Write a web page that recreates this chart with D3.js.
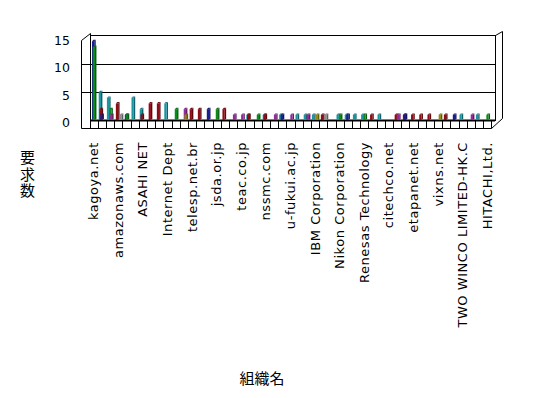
<!DOCTYPE html>
<html>
<head>
<meta charset="utf-8">
<script src="https://d3js.org/d3.v7.min.js"></script>
<style>
body {margin:0; background:#fff;}
svg text {font-family:"DejaVu Sans", sans-serif; fill:#000;}
</style>
</head>
<body>
<svg width="548" height="398"></svg>
<script>
// labels shown under every 3rd organisation
const tickLabels = ["kagoya.net", "amazonaws.com", "ASAHI NET", "Internet Dept", "telesp.net.br",
  "jsda.or.jp", "teac.co.jp", "nssmc.com", "u-fukui.ac.jp", "IBM Corporation", "Nikon Corporation",
  "Renesas Technology", "citechco.net", "etapanet.net", "vixns.net", "TWO WINCO LIMITED-HK.C", "HITACHI,Ltd."];
const labelStep = 3;
const yTicks = [0, 5, 10, 15];

// request counts per organisation (49), one array per series, back row first
const tealVals   = [0,5,4,0,0,4,2,0,0,3, 0,0,0,0,0,0,0,0,0,1, 0,1,0,1,0,1,1,1,0,0, 1,1,1,1,0,1,0,0,0,0, 0,0,0,0,0,1,0,1,0];
const redVals    = [0,2,0,3,0,0,1,3,3,0, 0,0,2,2,0,0,2,0,0,1, 0,1,0,0,0,0,0,0,1,0, 0,0,0,0,1,0,0,1,1,1, 1,1,0,1,0,0,0,0,0];
const navyVals   = [14,1,0,0,1,0,0,0,0,0, 0,0,0,0,2,0,0,0,0,0, 0,0,0,1,0,0,0,0,0,0, 0,1,0,0,0,0,0,0,1,0, 0,0,0,0,1,0,0,0,0];
const greenVals  = [13,0,2,0,1,0,0,0,0,0, 2,0,0,0,0,2,0,0,0,0, 1,0,0,0,0,0,0,0,0,0, 1,0,0,1,0,0,0,0,0,0, 0,0,0,0,0,0,0,0,1];
const purpleVals = [0,0,1,0,0,0,0,0,0,0, 0,2,0,0,0,0,0,1,1,0, 0,0,1,0,1,0,1,0,0,0, 0,0,0,0,0,0,0,1,0,0, 0,0,0,0,0,0,1,0,0];
const oliveVals  = [0,0,0,0,0,0,0,0,0,0, 0,1,0,0,0,0,0,0,0,0, 0,0,0,0,0,0,0,1,0,0, 0,0,0,0,0,0,0,0,0,0, 0,0,1,0,0,0,0,0,0];
const grayVals   = [0,0,0,1,0,0,0,0,0,0, 0,0,0,0,0,0,0,0,0,0, 0,0,0,0,0,0,0,0,1,0, 0,0,0,0,0,0,0,0,0,0, 0,0,0,0,0,0,0,0,0];

const series = [
  {vals: tealVals,   color: "#1b95a2"},
  {vals: redVals,    color: "#8e0c16"},
  {vals: navyVals,   color: "#1c1c90"},
  {vals: greenVals,  color: "#0c8a1c"},
  {vals: purpleVals, color: "#952a9c"},
  {vals: oliveVals,  color: "#8c8a10"},
  {vals: grayVals,   color: "#8e8e8e"}
];

const svg = d3.select("svg");
const x = d3.scaleBand().domain(d3.range(tealVals.length)).range([89.5, 491.3]);
const y = d3.scaleLinear().domain([0, 15]).range([120.5, 35.5]);
const yLab = d3.scaleLinear().domain([0, 15]).range([122.5, 40.5]);

// walls
const frame = svg.append("g").attr("fill", "none").attr("stroke", "#000").attr("stroke-width", 1);
frame.append("rect").attr("x", 90.5).attr("y", 35.5).attr("width", 405).attr("height", 85);
yTicks.filter(t => t > 0 && t < 15).forEach(t => {
  const yy = Math.round(y(t)) + 0.5;
  frame.append("line").attr("x1", 81.5).attr("x2", 495.5).attr("y1", yy).attr("y2", yy);
});
// left wall
frame.append("path").attr("d", "M81.5,128.5 V40.5 L90.5,33.5 V121");
// right end of back wall and floor
frame.append("path").attr("d", "M495.5,35.5 L502.5,31.5 V118.5 L491.5,128.5");
// floor front face with category ticks
frame.append("line").attr("x1", 81.5).attr("x2", 491.5).attr("y1", 128.5).attr("y2", 128.5);
frame.selectAll("line.tick").data(d3.range(tealVals.length + 1)).join("line")
  .attr("class", "tick")
  .attr("x1", i => Math.round(89.5 + i * x.step()) + 0.5)
  .attr("x2", i => Math.round(89.5 + i * x.step()) + 0.5)
  .attr("y1", 121).attr("y2", 128.5);
svg.append("line").attr("x1", 90).attr("x2", 495).attr("y1", 120.5).attr("y2", 120.5)
  .attr("stroke", "#000").attr("stroke-width", 2);

// bars, back series first
const w = 2.3, sd = 1.4;
series.forEach((s, d) => {
  const g = svg.append("g");
  s.vals.forEach((v, i) => {
    if (!v) return;
    const x0 = x(i) + 1 + d * 0.75, x1 = x0 + w;
    const yb = y(0) - 0.5, yt = y(v);
    g.append("path")
      .attr("d", `M${x1},${yb} L${x1 + sd},${yb - sd} L${x1 + sd},${yt - sd} L${x1},${yt} Z`)
      .attr("fill", d3.color(s.color).darker(1.2));
    g.append("path")
      .attr("d", `M${x0},${yt} L${x0 + sd},${yt - sd} L${x1 + sd},${yt - sd} L${x1},${yt} Z`)
      .attr("fill", d3.color(s.color).darker(0.6));
    g.append("rect").attr("x", x0).attr("y", yt).attr("width", w).attr("height", yb - yt)
      .attr("fill", s.color);
  });
});

// y axis labels
const yAxis = svg.append("g").attr("transform", "translate(70,0)")
  .call(d3.axisLeft(yLab).tickValues(yTicks).tickSize(0).tickPadding(0));
yAxis.select(".domain").remove();
yAxis.selectAll("text").attr("font-family", "DejaVu Sans").attr("font-size", 12.5).attr("fill", "#000");

// x axis labels, rotated
const xAxis = svg.append("g").attr("transform", "translate(0,142)")
  .call(d3.axisBottom(x)
    .tickValues(d3.range(0, tealVals.length, labelStep))
    .tickFormat(i => tickLabels[i / labelStep])
    .tickSize(0));
xAxis.select(".domain").remove();
xAxis.selectAll("text")
  .attr("transform", "rotate(-90)")
  .attr("text-anchor", "end")
  .attr("x", 0).attr("y", 4.5).attr("dy", 0)
  .attr("font-family", "DejaVu Sans").attr("font-size", 13)
  .attr("letter-spacing", 0.55).attr("fill", "#000");

// axis titles (y title written vertically)
svg.append("text")
  .attr("x", 27.5).attr("y", 150)
  .style("writing-mode", "vertical-rl")
  .style("font-family", "'Noto Sans CJK JP'").style("font-size", "15px")
  .attr("letter-spacing", 1.5)
  .text("要求数");
svg.append("text").attr("x", 262).attr("y", 384).attr("text-anchor", "middle")
  .style("font-family", "'Noto Sans CJK JP'").style("font-size", "15px").text("組織名");
</script>
</body>
</html>
